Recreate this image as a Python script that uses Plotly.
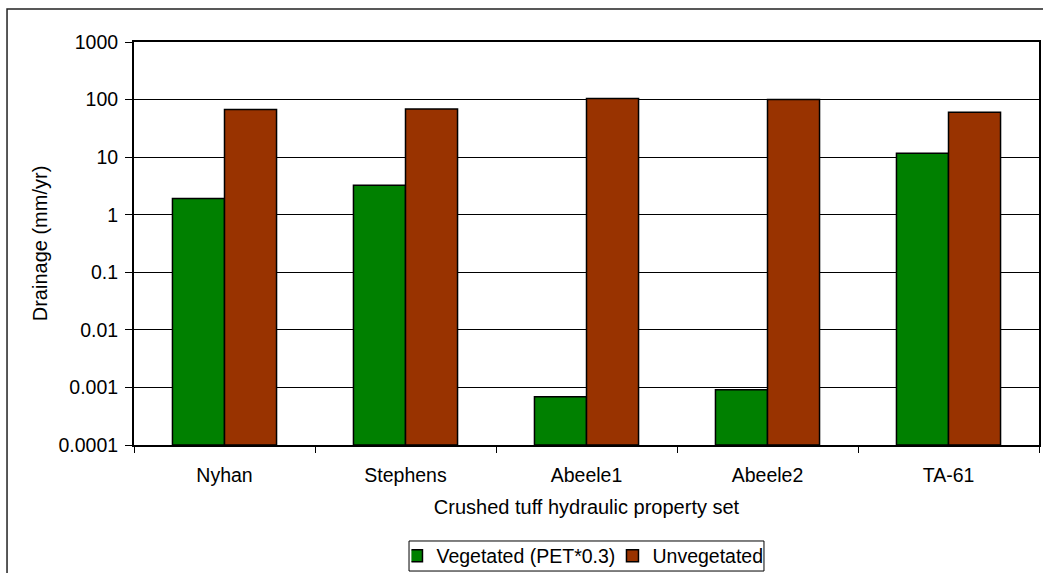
import plotly.graph_objects as go

# Drainage for each crushed-tuff hydraulic property set
property_sets = ["Nyhan", "Stephens", "Abeele1", "Abeele2", "TA-61"]
vegetated = [1.92, 3.25, 0.00069, 0.00091, 11.7]
unvegetated = [67.5, 68.5, 104, 100, 60]

y_tick_values = [0.0001, 0.001, 0.01, 0.1, 1, 10, 100, 1000]
y_tick_labels = ["0.0001", "0.001", "0.01", "0.1", "1", "10", "100", "1000"]

FONT = "Liberation Sans, Arial, sans-serif"
TICK_FS = 19.5
TITLE_FS = 20
BASE = 1e-4  # bars start at the bottom of the log axis

fig = go.Figure()
fig.add_trace(go.Bar(
    name="Vegetated (PET*0.3)",
    x=property_sets,
    y=[v - BASE for v in vegetated],
    base=BASE,
    marker=dict(color="#008000", line=dict(color="black", width=1.5)),
))
fig.add_trace(go.Bar(
    name="Unvegetated",
    x=property_sets,
    y=[v - BASE for v in unvegetated],
    base=BASE,
    marker=dict(color="#993300", line=dict(color="black", width=1.5)),
))

fig.update_layout(
    width=1043,
    height=573,
    margin=dict(l=134, r=4, t=42, b=128, autoexpand=False),
    paper_bgcolor="white",
    plot_bgcolor="white",
    font=dict(family=FONT, size=TICK_FS, color="black"),
    barmode="group",
    bargap=0.425,
    bargroupgap=0,
    showlegend=True,
    legend=dict(
        orientation="h",
        x=0.3066, xanchor="left",
        y=-0.2754, yanchor="middle",
        borderwidth=0,
        bgcolor="rgba(0,0,0,0)",
        font=dict(family=FONT, size=TICK_FS, color="black"),
        itemwidth=30,
        indentation=-15,
        entrywidth=186,
        entrywidthmode="pixels",
        tracegroupgap=0,
    ),
    shapes=[
        # outer chart frame
        dict(
            type="rect", xref="paper", yref="paper",
            x0=-0.1403, x1=1.2, y0=-0.6, y1=1.0819,
            line=dict(color="#222222", width=1.5),
            fillcolor="rgba(0,0,0,0)",
            layer="below",
        ),
        # legend frame
        dict(
            type="rect", xref="paper", yref="paper",
            x0=0.3039, x1=0.6961, y0=-0.3127, y1=-0.2382,
            line=dict(color="black", width=1),
            fillcolor="white",
            layer="below",
        ),
    ],
)

fig.update_xaxes(
    type="category",
    showline=True, linecolor="black", linewidth=2, mirror=True,
    ticks="outside", tickson="boundaries", ticklen=6, tickcolor="black",
    ticklabelstandoff=12,
    showgrid=False,
    tickfont=dict(family=FONT, size=TICK_FS, color="black"),
    title=dict(text="Crushed tuff hydraulic property set",
               font=dict(family=FONT, size=TITLE_FS, color="black"), standoff=15),
    automargin=False,
)
fig.update_yaxes(
    type="log",
    range=[-4, 3],
    tickvals=y_tick_values,
    ticktext=y_tick_labels,
    showline=True, linecolor="black", linewidth=2, mirror=True,
    ticks="outside", ticklen=7, tickcolor="black",
    ticklabelstandoff=3,
    showgrid=True, gridcolor="black", gridwidth=1,
    zeroline=False,
    tickfont=dict(family=FONT, size=TICK_FS, color="black"),
    title=dict(text="Drainage (mm/yr)",
               font=dict(family=FONT, size=TITLE_FS, color="black"), standoff=5),
    automargin=False,
)

fig.write_html("out.html")
